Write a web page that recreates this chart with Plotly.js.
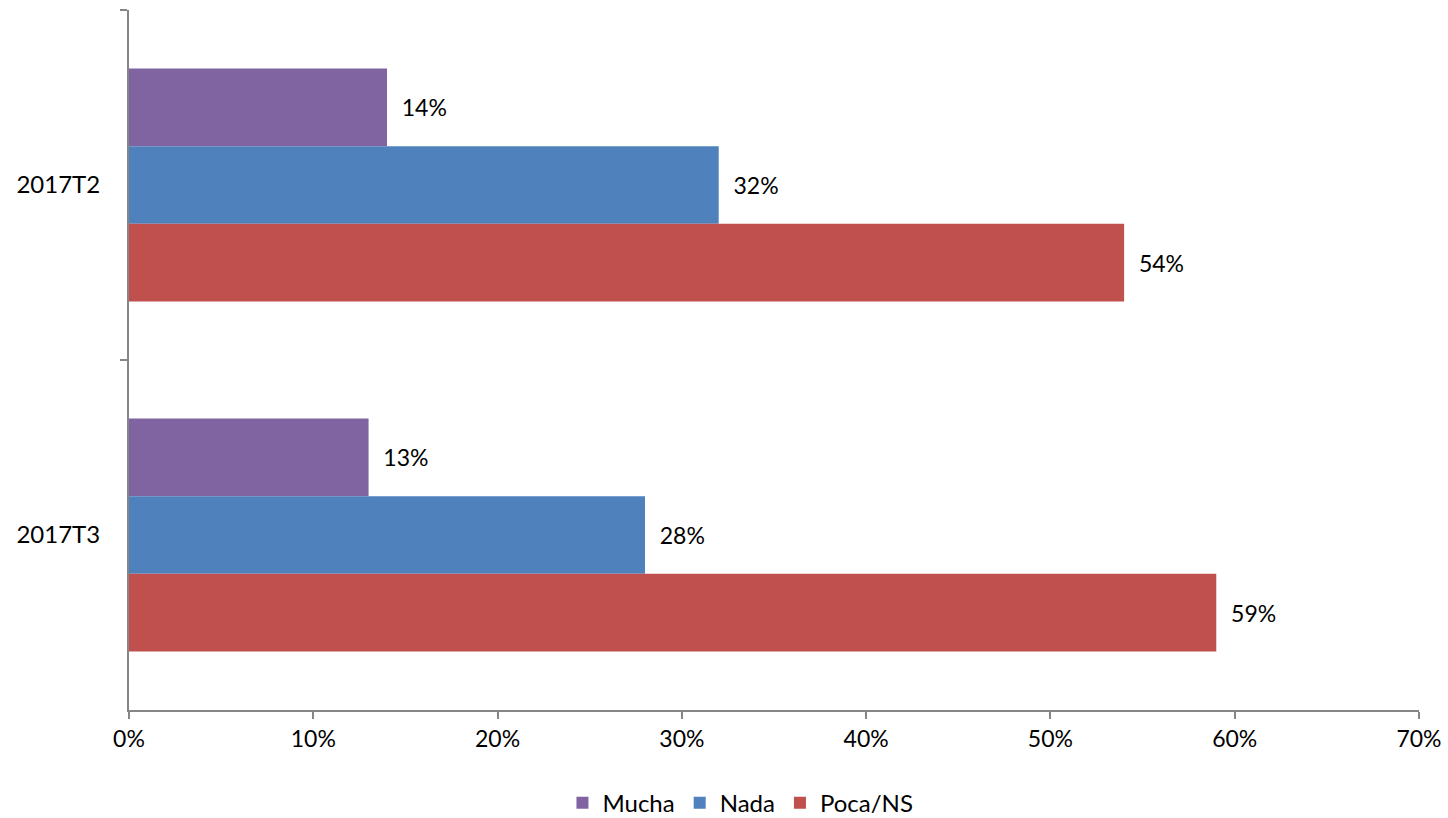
<!DOCTYPE html>
<html>
<head>
<meta charset="utf-8">
<script src="https://cdn.plot.ly/plotly-3.0.1.min.js"></script>
<style>html,body{margin:0;padding:0;background:#fff}#chart{width:1448px;height:818px}</style>
</head>
<body>
<div id="chart"></div>
<script>
const categories = ["2017T2", "2017T3"];
const seriesNames = ["Mucha", "Nada", "Poca/NS"];
const mucha = [0.14, 0.13];
const nada = [0.32, 0.28];
const pocaNS = [0.54, 0.59];
const xTickVals = [0, 0.1, 0.2, 0.3, 0.4, 0.5, 0.6, 0.7];
const xTickText = ["0%", "10%", "20%", "30%", "40%", "50%", "60%", "70%"];

const colors = ["#8064A2", "#4F81BD", "#C0504D"];
const values = [mucha, nada, pocaNS];
const fontFam = "Lato, 'Open Sans', sans-serif";

const traces = seriesNames.map((name, i) => ({
  type: "bar",
  orientation: "h",
  name: name,
  y: categories,
  x: values[i],
  marker: {color: colors[i]},
  text: values[i].map(v => "  " + Math.round(v * 100) + "%"),
  textposition: "outside",
  cliponaxis: false,
  textfont: {family: fontFam, size: 23, color: "#000"},
  hoverinfo: "none"
}));

const layout = {
  width: 1448,
  height: 818,
  margin: {l: 129, r: 29, t: 10, b: 108, autoexpand: false},
  paper_bgcolor: "#fff",
  plot_bgcolor: "#fff",
  font: {family: fontFam, size: 23, color: "#000"},
  barmode: "group",
  bargap: 0.334,
  bargroupgap: 0,
  showlegend: true,
  legend: {
    orientation: "h",
    x: 0.474, xanchor: "center", xref: "paper",
    y: -0.133, yanchor: "middle",
    font: {family: fontFam, size: 24, color: "#000"},
    itemwidth: 30,
    traceorder: "normal"
  },
  xaxis: {
    range: [0, 0.7],
    tickvals: xTickVals,
    ticktext: xTickText,
    showgrid: false,
    zeroline: false,
    showline: true,
    linecolor: "#868686",
    linewidth: 2,
    ticks: "outside",
    ticklen: 7,
    tickwidth: 2,
    tickcolor: "#868686",
    tickfont: {family: fontFam, size: 23, color: "#000"},
    fixedrange: true
  },
  yaxis: {
    type: "category",
    autorange: "reversed",
    showgrid: false,
    zeroline: false,
    showline: true,
    linecolor: "#868686",
    linewidth: 2,
    ticks: "outside",
    tickson: "boundaries",
    ticklen: 7,
    tickwidth: 2,
    tickcolor: "#868686",
    ticklabelstandoff: 22,
    tickfont: {family: fontFam, size: 24, color: "#000"},
    fixedrange: true
  }
};

Plotly.newPlot("chart", traces, layout, {displayModeBar: false, staticPlot: true});
</script>
</body>
</html>
